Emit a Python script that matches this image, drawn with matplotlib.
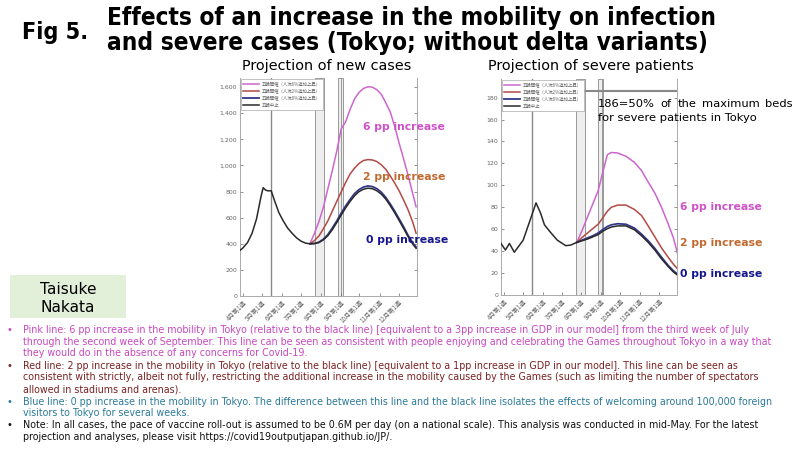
import matplotlib
matplotlib.use("Agg")
import os
import matplotlib.pyplot as plt
from matplotlib import font_manager as fm
from matplotlib.patches import Rectangle

# weeks counted from the first week of April
month_ticks = [0, 4.3, 8.7, 13.0, 17.4, 21.9, 26.1, 30.6, 34.9]
month_labels = ["4月第1週", "5月第1週", "6月第1週", "7月第1週", "8月第1週",
                "9月第1週", "10月第1週", "11月第1週", "12月第1週"]
legend_labels = ["五輪開催（人流6%追加上昇）", "五輪開催（人流2%追加上昇）",
                 "五輪開催（人流0%追加上昇）", "五輪中止"]

# new cases
nc_black_x = [-0.6, 0, 1, 2, 3, 4, 4.5, 5, 5.5, 6.3, 7, 8, 9, 10, 11, 12, 13, 14, 15,
              16, 17, 18, 19, 20, 21, 22, 23, 24, 25, 26, 27, 28, 29, 30, 31, 32, 33,
              34, 35, 36, 37, 38, 38.8]
nc_black = [352, 370, 410, 480, 590, 760, 830, 812, 806, 806, 735, 640, 575, 520, 480,
            445, 420, 405, 400,
            402, 410, 430, 462, 508, 562, 620, 675, 725, 768, 800, 818, 826, 822, 806,
            780, 742, 692, 637, 578, 517, 455, 400, 365]
nc_proj_x = [15, 16, 17, 18, 19, 20, 21, 22, 23, 24, 25, 26, 27, 28, 29, 30, 31, 32,
             33, 34, 35, 36, 37, 38, 38.8]
nc_pink = [400, 480, 570, 680, 820, 960, 1110, 1280, 1335, 1430, 1510, 1560, 1590,
           1603, 1600, 1580, 1545, 1480, 1410, 1300, 1170, 1050, 925, 790, 683]
nc_red = [400, 425, 460, 515, 575, 650, 725, 797, 870, 935, 980, 1015, 1038, 1045,
          1042, 1030, 1005, 970, 920, 865, 805, 735, 660, 570, 480]
nc_blue = [400, 402, 412, 435, 470, 520, 575, 635, 690, 740, 785, 815, 835, 843, 838,
           822, 795, 755, 705, 650, 590, 530, 465, 410, 375]

# severe patients
sv_black_x = [-0.7, 0.3, 1.2, 2.3, 4.3, 5.5, 7.2, 8.2, 9.1, 10.5, 12.0, 13.9, 15.0, 16.4]
sv_black_early = [47, 41, 47, 39, 50, 64, 84, 75, 64, 57, 50, 45, 45.5, 48]
sv_proj_x = [16.4, 17.6, 18.8, 20.0, 21.2, 22.2, 23.3, 24.2, 25.6, 27.5, 29.4, 31.0,
             32.5, 34.0, 35.5, 37.0, 38.2, 39.3]
sv_pink = [48, 59, 71, 83, 95, 111, 128, 130, 129.5, 126.5, 121, 113.5, 103, 93, 80,
           65, 52, 35]
sv_red = [48, 52.5, 56.5, 60.5, 64.5, 70, 76.5, 80, 82, 82, 78, 72.5, 63, 53, 43,
          34.5, 28, 23]
sv_blue = [48, 50, 52, 54, 56.5, 59.5, 62.5, 64, 65, 64.5, 61, 55.5, 49.5, 42.5, 34.5,
           27, 22, 18.5]
sv_black = [48, 49.5, 51, 53, 55, 58, 60.5, 62, 63, 63, 59.5, 54, 48, 41, 33, 26, 21,
            17.5]
bed_line = 186

c_pink, c_red, c_blue, c_black = "#cc66cc", "#b24a45", "#33388a", "#2a2a2a"


def narrow_font(bold):
    # look for an installed narrow / condensed sans face, else plain Liberation Sans
    prefs = ["liberationsansnarrow", "dejavusanscondensed", "notosans-condensed",
             "robotocondensed", "opensans-condensed", "opensanscondensed"]
    found = {}
    for f in fm.fontManager.ttflist:
        base = os.path.basename(f.fname).lower()
        stem = base.rsplit(".", 1)[0]
        if "italic" in stem or "oblique" in stem:
            continue
        for p in prefs:
            if not stem.startswith(p):
                continue
            rest = stem[len(p):].strip("-_")
            if bold and rest == "bold":
                found[p] = f.fname
            if not bold and rest in ("", "regular"):
                found[p] = f.fname
    for p in prefs:
        if p in found:
            return fm.FontProperties(fname=found[p])
    return fm.FontProperties(family="Liberation Sans",
                             weight="bold" if bold else "normal")


fp_title = narrow_font(True)
fp_body = narrow_font(False)

fig = plt.figure(figsize=(8, 4.5), dpi=100)
renderer = fig.canvas.get_renderer()


def fx(px):
    return px / 800


def fy(py):
    return 1 - py / 450


def fit(t, width_px):
    w = t.get_window_extent(renderer).width
    t.set_fontsize(t.get_fontsize() * width_px / w)
    return t.get_fontsize()


def setup(ax, ymax, yticks, ylabels):
    ax.set_xlim(-0.7, 39)
    ax.set_ylim(0, ymax)
    ax.set_xticks(month_ticks)
    ax.set_xticklabels(month_labels, rotation=45, ha="right", rotation_mode="anchor",
                       family="Noto Sans CJK JP")
    ax.set_yticks(yticks)
    ax.set_yticklabels(ylabels)
    ax.tick_params(direction="in", length=2, width=0.5, right=True, labelsize=4.5,
                   colors="#666", pad=2)
    ax.spines["top"].set_visible(False)
    for s in ("left", "bottom", "right"):
        ax.spines[s].set_color("#aaaaaa")
        ax.spines[s].set_linewidth(0.7)
    ax.axvline(6.3, color="#888888", lw=1.0, zorder=1)
    ax.axvspan(16.2, 18.2, facecolor="#eeeeee", edgecolor="#999999", lw=0.7, zorder=1)
    ax.axvspan(21.2, 22.3, facecolor="#eeeeee", edgecolor="#999999", lw=0.7, zorder=1)
    ax.axvline(22.0, color="#999999", lw=0.7, zorder=1)


# left: new cases
ax1 = fig.add_axes([fx(240), fy(296), fx(417) - fx(240), fy(78) - fy(296)])
setup(ax1, 1670, range(0, 1601, 200),
      ["0", "200", "400", "600", "800", "1,000", "1,200", "1,400", "1,600"])
ax1.plot(nc_proj_x, nc_pink, color=c_pink, lw=1.1, label=legend_labels[0], zorder=3)
ax1.plot(nc_proj_x, nc_red, color=c_red, lw=1.1, label=legend_labels[1], zorder=3)
ax1.plot(nc_proj_x, nc_blue, color=c_blue, lw=1.3, label=legend_labels[2], zorder=3)
ax1.plot(nc_black_x, nc_black, color=c_black, lw=1.1, label=legend_labels[3], zorder=4)

# right: severe patients
ax2 = fig.add_axes([fx(501), fy(295), fx(677) - fx(501), fy(79) - fy(295)])
setup(ax2, 197, range(0, 181, 20), [str(v) for v in range(0, 181, 20)])
ax2.axhline(bed_line, color="#888888", lw=1.5, zorder=2)
ax2.plot(sv_proj_x, sv_pink, color=c_pink, lw=1.1, label=legend_labels[0], zorder=3)
ax2.plot(sv_proj_x, sv_red, color=c_red, lw=1.1, label=legend_labels[1], zorder=3)
ax2.plot(sv_proj_x, sv_blue, color=c_blue, lw=1.3, label=legend_labels[2], zorder=3)
ax2.plot(sv_proj_x, sv_black, color=c_black, lw=1.1, label=legend_labels[3], zorder=4)
ax2.plot(sv_black_x, sv_black_early, color=c_black, lw=1.1, zorder=4)

for ax in (ax1, ax2):
    leg = ax.legend(loc="upper left", prop={"family": "Noto Sans CJK JP", "size": 3.2},
                    handlelength=3.5, borderaxespad=0.3, labelspacing=0.5,
                    fancybox=False, edgecolor="#aaaaaa", framealpha=1)
    leg.get_frame().set_linewidth(0.5)
    leg.set_zorder(6)
    for t in leg.get_texts():
        t.set_color("#666666")

# titles
t = fig.text(fx(22), fy(32), "Fig 5.", fontproperties=fp_title, fontsize=20,
             va="center")
fit(t, 66)
t1 = fig.text(fx(107), fy(18), "Effects of an increase in the mobility on infection",
              fontproperties=fp_title, fontsize=20, va="center")
size = fit(t1, 609)
fig.text(fx(107), fy(43), "and severe cases (Tokyo; without delta variants)",
         fontproperties=fp_title, fontsize=size, va="center")

t = fig.text(fx(327), fy(66), "Projection of new cases", fontsize=9.5, ha="center",
             va="center")
size = fit(t, 171)
fig.text(fx(591), fy(66), "Projection of severe patients", fontsize=size,
         ha="center", va="center")

# bed annotation: second line sets the size, first line is justified
t = fig.text(fx(598), fy(118), "for severe patients in Tokyo", fontsize=7.5,
             va="center")
size = fit(t, 158)
words = ["186=50%", "of", "the", "maximum", "beds"]
wt = [fig.text(0, fy(104), w, fontsize=size, va="center") for w in words]
widths = [w.get_window_extent(renderer).width for w in wt]
gap = (195 - sum(widths)) / (len(words) - 1)
xpos = 598
for w, wd in zip(wt, widths):
    w.set_x(fx(xpos))
    xpos += wd + gap

# scenario labels
lab = dict(fontsize=8, fontweight="bold", va="center")
label_pos = [(363, 127, "6", "#d050c8"), (363, 177, "2", "#c06a30"),
             (366, 240, "0", "#15158c"), (680, 207, "6", "#d050c8"),
             (680, 243, "2", "#c06a30"), (680, 274, "0", "#15158c")]
for x, y, pp, col in label_pos:
    t = fig.text(fx(x), fy(y), f"{pp} pp increase", color=col, **lab)
    fit(t, 82)

# author box
fig.patches.append(Rectangle((fx(10), fy(318)), fx(126) - fx(10), fy(275) - fy(318),
                             transform=fig.transFigure, facecolor="#e2efd9",
                             edgecolor="none"))
t = fig.text(fx(68), fy(290), "Taisuke", fontsize=10.5, ha="center", va="center")
size = fit(t, 57)
fig.text(fx(68), fy(307), "Nakata", fontsize=size, ha="center", va="center")

# notes: (bullet, text, colour, y, right end of the line in the reference or None)
notes = [
    ("•", "Pink line: 6 pp increase in the mobility in Tokyo (relative to the black line) [equivalent to a 3pp increase in GDP in our model] from the third week of July", "#c848c0", 330, 771),
    ("", "through the second week of September. This line can be seen as consistent with people enjoying and celebrating the Games throughout Tokyo in a way that", "#c848c0", 341.7, 770),
    ("", "they would do in the absence of any concerns for Covid-19.", "#c848c0", 353.3, None),
    ("•", "Red line: 2 pp increase in the mobility in Tokyo (relative to the black line) [equivalent to a 1pp increase in GDP in our model]. This line can be seen as", "#7a2222", 365.7, 752),
    ("", "consistent with strictly, albeit not fully, restricting the additional increase in the mobility caused by the Games (such as limiting the number of spectators", "#7a2222", 377.3, 794),
    ("", "allowed in stadiums and arenas).", "#7a2222", 389, None),
    ("•", "Blue line: 0 pp increase in the mobility in Tokyo. The difference between this line and the black line isolates the effects of welcoming around 100,000 foreign", "#2b7a9a", 401.7, 795),
    ("", "visitors to Tokyo for several weeks.", "#2b7a9a", 413.3, None),
    ("•", "Note: In all cases, the pace of vaccine roll-out is assumed to be 0.6M per day (on a national scale). This analysis was conducted in mid-May. For the latest", "#111111", 425, 768),
    ("", "projection and analyses, please visit https://covid19outputjapan.github.io/JP/.", "#111111", 436.7, None),
]
texts = []
sizes = []
for bullet, line, col, y, xend in notes:
    if bullet:
        fig.text(fx(6), fy(y), bullet, fontsize=7, color=col, va="center")
    t = fig.text(fx(23), fy(y), line, fontproperties=fp_body, fontsize=8, color=col,
                 va="center")
    texts.append(t)
    if xend:
        sizes.append(8 * (xend - 23) / t.get_window_extent(renderer).width)
size = min(sizes)
for t in texts:
    t.set_fontsize(size)

plt.savefig("out.png", dpi=100)
